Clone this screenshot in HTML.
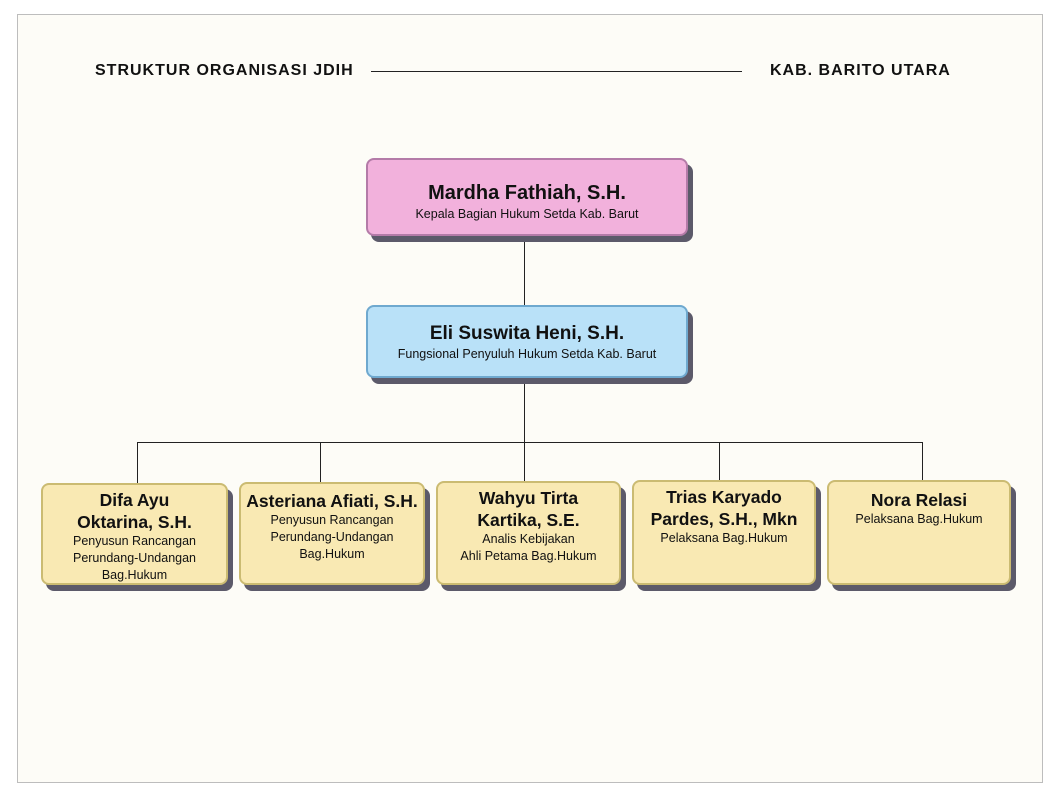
<!DOCTYPE html>
<html><head><meta charset="utf-8"><style>
*{margin:0;padding:0;box-sizing:border-box}
body{width:1059px;height:799px;background:#fff;position:relative;overflow:hidden;font-family:"Liberation Sans",sans-serif;color:#111}
.frame{position:absolute;left:17px;top:14px;width:1026px;height:769px;border:1px solid #bdbdbd;background:#fdfcf7}
.hd{position:absolute;top:62px;font-weight:bold;font-size:16px;letter-spacing:1px;white-space:nowrap}
.ln{position:absolute;background:#222}
.box{position:absolute;border-radius:8px;text-align:center;box-shadow:5px 6px 0 #5c5a6a}
.n{font-weight:bold}
.pink{background:#f2b1dc;border:2px solid #b47ba8}
.blue{background:#b9e1f8;border:2px solid #6fa9cf}
.yel{background:#f9e9b3;border:2px solid #cbbb72}
.t{font-size:12.5px;line-height:17px}
.yel .n{font-size:17.5px;line-height:22px}
</style></head><body>
<div class="frame"></div>
<div class="hd" style="left:95px">STRUKTUR ORGANISASI JDIH</div>
<div class="ln" style="left:371px;top:71px;width:371px;height:1px"></div>
<div class="hd" style="left:770px">KAB. BARITO UTARA</div>

<div class="ln" style="left:524px;top:235px;width:1px;height:70px"></div>
<div class="ln" style="left:524px;top:377px;width:1px;height:66px"></div>
<div class="ln" style="left:137px;top:442px;width:786px;height:1px"></div>
<div class="ln" style="left:137px;top:442px;width:1px;height:41px"></div>
<div class="ln" style="left:320px;top:442px;width:1px;height:40px"></div>
<div class="ln" style="left:524px;top:442px;width:1px;height:39px"></div>
<div class="ln" style="left:719px;top:442px;width:1px;height:38px"></div>
<div class="ln" style="left:922px;top:442px;width:1px;height:38px"></div>

<div class="box pink" style="left:366px;top:158px;width:322px;height:78px;padding-top:21px">
<div class="n" style="font-size:20px;line-height:25px">Mardha Fathiah, S.H.</div>
<div class="t">Kepala Bagian Hukum Setda Kab. Barut</div></div>

<div class="box blue" style="left:366px;top:305px;width:322px;height:73px;padding-top:14px">
<div class="n" style="font-size:19px;line-height:25px">Eli Suswita Heni, S.H.</div>
<div class="t">Fungsional Penyuluh Hukum Setda Kab. Barut</div></div>

<div class="box yel" style="left:41px;top:483px;width:187px;height:102px;padding-top:4px">
<div class="n">Difa Ayu<br>Oktarina, S.H.</div>
<div class="t">Penyusun Rancangan<br>Perundang-Undangan<br>Bag.Hukum</div></div>

<div class="box yel" style="left:239px;top:482px;width:186px;height:103px;padding-top:6px">
<div class="n">Asteriana Afiati, S.H.</div>
<div class="t">Penyusun Rancangan<br>Perundang-Undangan<br>Bag.Hukum</div></div>

<div class="box yel" style="left:436px;top:481px;width:185px;height:104px;padding-top:4px">
<div class="n">Wahyu Tirta<br>Kartika, S.E.</div>
<div class="t">Analis Kebijakan<br>Ahli Petama Bag.Hukum</div></div>

<div class="box yel" style="left:632px;top:480px;width:184px;height:105px;padding-top:4px">
<div class="n">Trias Karyado<br>Pardes, S.H., Mkn</div>
<div class="t">Pelaksana Bag.Hukum</div></div>

<div class="box yel" style="left:827px;top:480px;width:184px;height:105px;padding-top:7px">
<div class="n">Nora Relasi</div>
<div class="t">Pelaksana Bag.Hukum</div></div>
</body></html>
